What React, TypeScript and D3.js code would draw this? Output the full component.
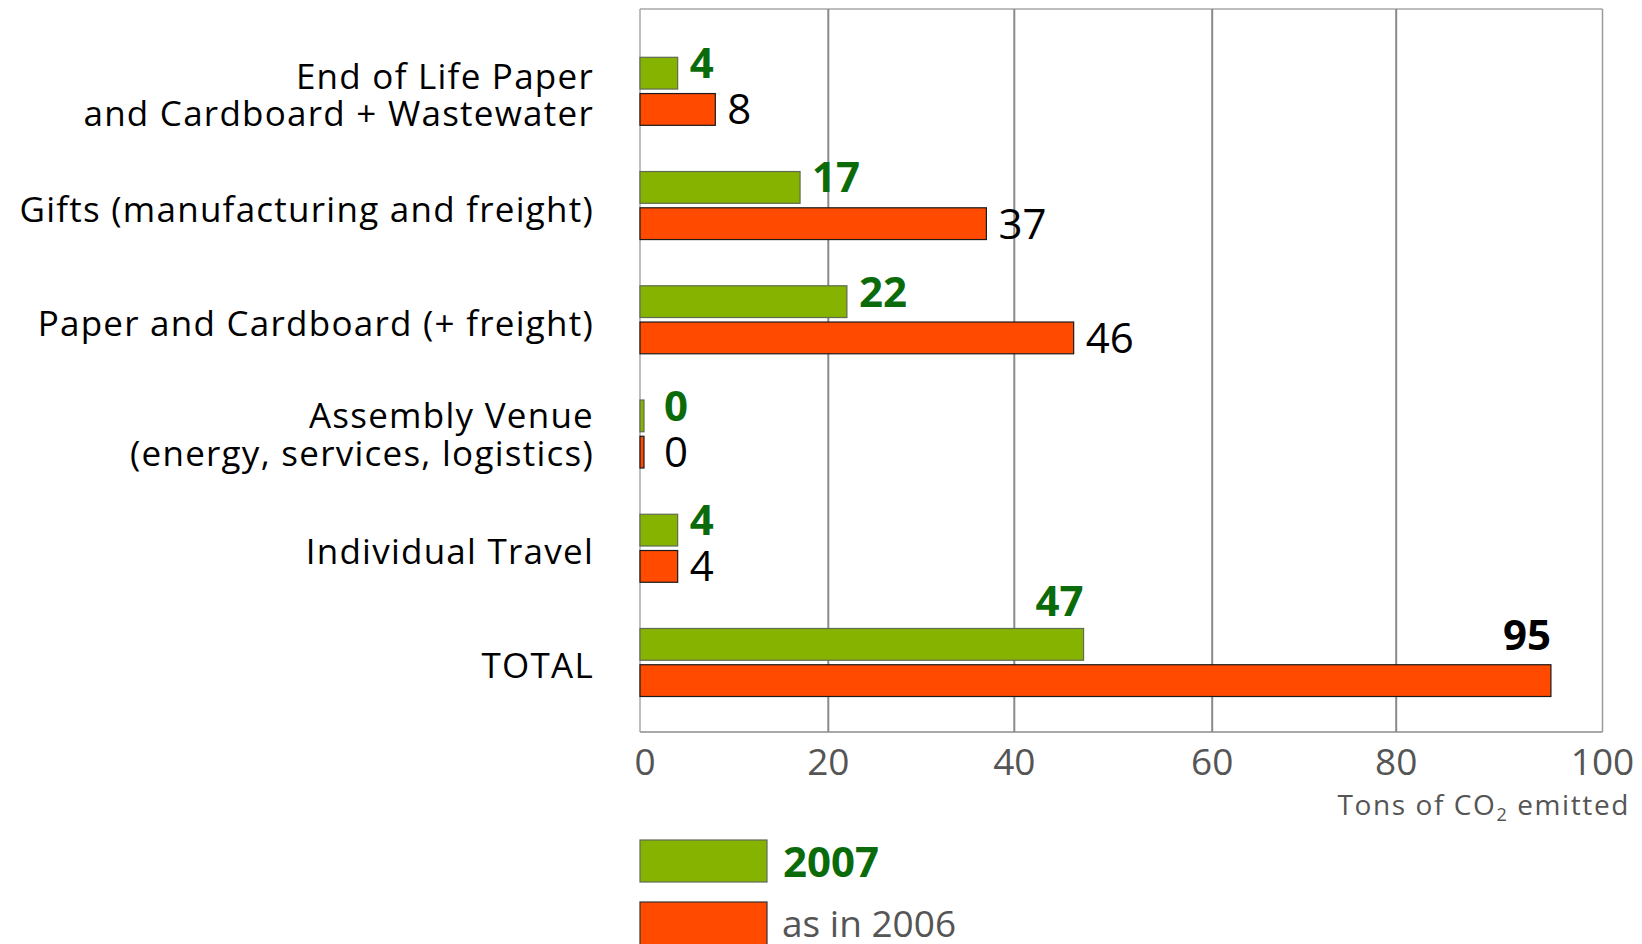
import React from "react";
import * as d3 from "d3";

const categories = [
  "End of Life Paper\nand Cardboard + Wastewater",
  "Gifts (manufacturing and freight)",
  "Paper and Cardboard (+ freight)",
  "Assembly Venue\n(energy, services, logistics)",
  "Individual Travel",
  "TOTAL",
];
const series = ["2007", "as in 2006"];
const values2007 = [4, 17, 22, 0, 4, 47];
const values2006 = [8, 37, 46, 0, 4, 95];
const xTicks = [0, 20, 40, 60, 80, 100];
const xAxisTitle = "Tons of CO";
const xAxisTitleSub = "2";
const xAxisTitleEnd = " emitted";

const W = 1642;
const H = 944;
const FONT = "'Open Sans', 'Noto Sans', sans-serif";

const GREEN = "#86b300";
const RED = "#ff4a00";
const GREEN_TXT = "#0b6b0b";

export default function App() {
  const plotLeft = 640;
  const plotRight = 1602.5;
  const plotTop = 9;
  const plotBottom = 732;

  // the source grid is not evenly spaced: piecewise-linear scale through the tick positions
  const x = d3
    .scaleLinear()
    .domain(xTicks)
    .range([plotLeft, 828.3, 1014.3, 1212.2, 1396.2, plotRight]);

  const y = d3
    .scaleBand<string>()
    .domain(categories)
    .range([57.3, 696.5])
    .paddingInner(0.4046)
    .paddingOuter(0);

  const yInner = d3
    .scaleBand<string>()
    .domain(series)
    .range([0, y.bandwidth()])
    .paddingInner(0.124)
    .paddingOuter(0);

  const bw = yInner.bandwidth();
  const barW = (v: number) => Math.max(x(v) - x(0), 4);
  const labelX = (v: number) => Math.max(x(0) + barW(v) + 12, x(0) + 24);

  return (
    <svg
      width={W}
      height={H}
      style={{ position: "absolute", left: 0, top: 0, background: "#fff" }}
      fontFamily={FONT}
    >
      {/* frame */}
      <line x1={plotLeft} x2={plotRight} y1={plotTop} y2={plotTop} stroke="#bdbdbd" strokeWidth={2} />
      <line x1={plotLeft} x2={plotRight} y1={plotBottom} y2={plotBottom} stroke="#8c8c8c" strokeWidth={1.5} />
      {/* grid */}
      {xTicks.map((t, i) => (
        <line
          key={t}
          x1={x(t)}
          x2={x(t)}
          y1={plotTop}
          y2={plotBottom}
          stroke={i === 0 ? "#a8a8a8" : i === xTicks.length - 1 ? "#9a9a9a" : "#8a8a8a"}
          strokeWidth={i === 0 || i === xTicks.length - 1 ? 1.5 : 2}
        />
      ))}
      {/* tick labels */}
      {xTicks.map((t) => (
        <text key={t} x={x(t) + (t === 0 ? 5 : 0)} y={775} fontSize={37} fill="#555" textAnchor="middle">
          {t}
        </text>
      ))}
      <text x={1630} y={815} fontSize={28} letterSpacing={1.6} fill="#555" textAnchor="end">
        {xAxisTitle}
        <tspan fontSize={18} dy={6}>{xAxisTitleSub}</tspan>
        <tspan dy={-6}>{xAxisTitleEnd}</tspan>
      </text>

      {/* bars */}
      {categories.map((c, i) => {
        const y0 = y(c)!;
        const isTotal = i === categories.length - 1;
        const g = values2007[i];
        const r = values2006[i];
        const gy = y0 + yInner(series[0])!;
        const ry = y0 + yInner(series[1])!;
        return (
          <g key={c}>
            <rect x={x(0)} y={gy} width={barW(g)} height={bw} fill={GREEN} stroke="#5f6b55" strokeWidth={1.2} />
            <rect x={x(0)} y={ry} width={barW(r)} height={bw} fill={RED} stroke="#1a1a1a" strokeWidth={1.2} />
            {isTotal ? (
              <>
                <text x={x(0) + barW(g)} y={gy - 12.5} fontSize={42} fontWeight="bold" fill={GREEN_TXT} textAnchor="end">
                  {g}
                </text>
                <text x={x(0) + barW(r)} y={ry - 15} fontSize={42} fontWeight="bold" fill="#000" textAnchor="end">
                  {r}
                </text>
              </>
            ) : (
              <>
                <text x={labelX(g)} y={gy + bw - 11} fontSize={42} fontWeight="bold" fill={GREEN_TXT}>
                  {g}
                </text>
                <text x={labelX(r)} y={ry + bw - 1} fontSize={42} fill="#000">
                  {r}
                </text>
              </>
            )}
          </g>
        );
      })}

      {/* category labels */}
      {categories.map((c, i) => {
        const lines = c.split("\n");
        const cy = y(c)! + y.bandwidth() / 2;
        const lh = 37.5;
        const base = cy + (i === 3 ? 13 : 16) - ((lines.length - 1) * lh) / 2;
        return (
          <text key={c} x={594} fontSize={35} letterSpacing={1.25} fill="#000" textAnchor="end">
            {lines.map((l, k) => (
              <tspan key={k} x={594} y={base + k * lh}>
                {l}
              </tspan>
            ))}
          </text>
        );
      })}

      {/* legend */}
      <rect x={640} y={840} width={127} height={42} fill={GREEN} stroke="#5f6b55" strokeWidth={1.2} />
      <text x={783} y={877} fontSize={42} fontWeight="bold" fill={GREEN_TXT}>
        {series[0]}
      </text>
      <rect x={640} y={902} width={127} height={46} fill={RED} stroke="#333" strokeWidth={1.2} />
      <text x={782} y={937} fontSize={37} fill="#555">
        {series[1]}
      </text>
    </svg>
  );
}
